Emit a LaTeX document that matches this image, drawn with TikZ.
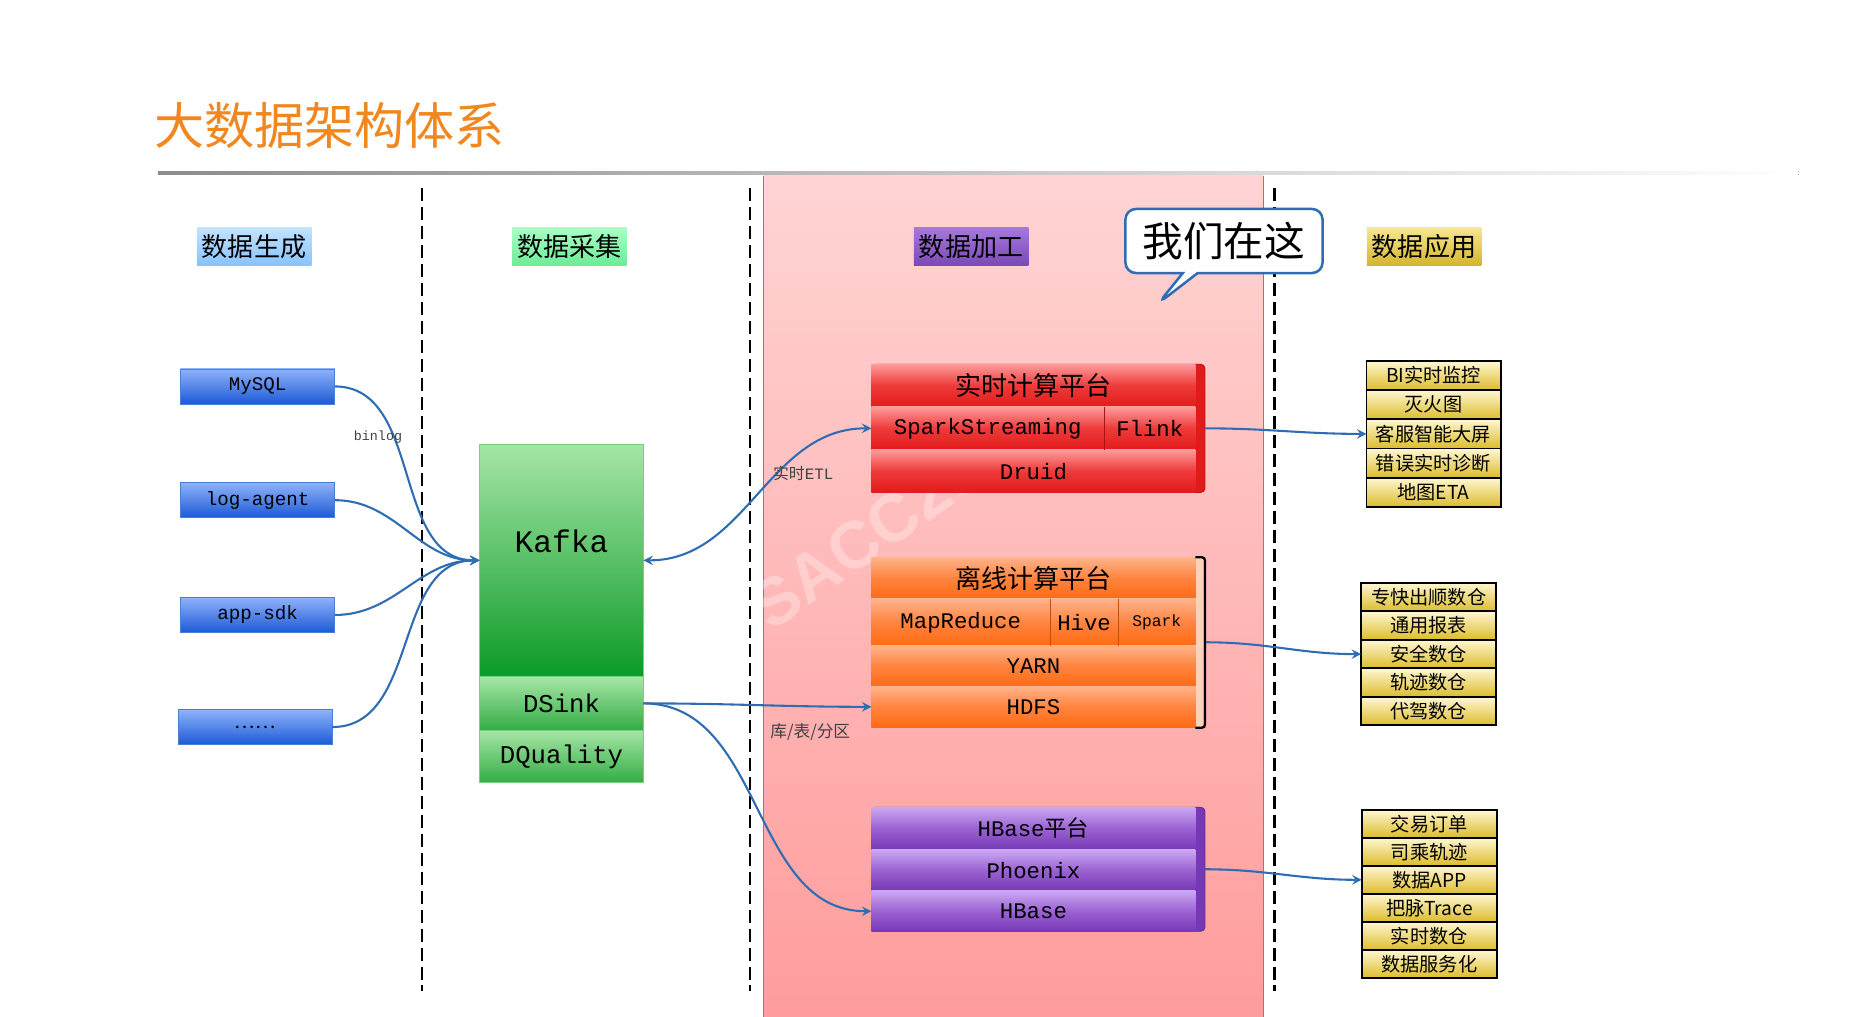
\documentclass[tikz,border=0pt]{standalone}
\usepackage{fontspec}
\setmainfont{Liberation Mono}
\newfontfamily\cjk{Noto Sans CJK SC}
\newfontfamily\wmfont{Liberation Sans}
\usetikzlibrary{positioning, arrows, shapes.callouts}
\definecolor{titleorange}{HTML}{F0871F}
\definecolor{pinktop}{HTML}{FFD4D4}
\definecolor{pinkbot}{HTML}{FF9C9C}
\definecolor{pinkline}{HTML}{E05A5A}
\definecolor{flowblue}{HTML}{2E6DB4}
\definecolor{srctop}{HTML}{8FB2FA}
\definecolor{srcbot}{HTML}{1D5AD6}
\definecolor{srcline}{HTML}{4A7FD8}
\definecolor{kfktop}{HTML}{A6E6A6}
\definecolor{kfkbot}{HTML}{0C9A28}
\definecolor{sinkbot}{HTML}{34AC44}
\definecolor{rttop}{HTML}{FF9A9A}
\definecolor{rtmid}{HTML}{EE3A3A}
\definecolor{rtbot}{HTML}{E31A1A}
\definecolor{offtop}{HTML}{FFB38A}
\definecolor{offmid}{HTML}{FF8440}
\definecolor{offbot}{HTML}{FF6A12}
\definecolor{hbtop}{HTML}{CBA8F2}
\definecolor{hbmid}{HTML}{9A62D2}
\definecolor{hbbot}{HTML}{7638B6}
\definecolor{goldtop}{HTML}{FFF7D2}
\definecolor{goldbot}{HTML}{DCBC2C}
\definecolor{hdatop}{HTML}{C2E2FF}
\definecolor{hdabot}{HTML}{86C2FF}
\definecolor{hdbtop}{HTML}{A8FFC4}
\definecolor{hdbbot}{HTML}{6CEC96}
\definecolor{hdctop}{HTML}{A678DC}
\definecolor{hdcbot}{HTML}{7A48B6}
\definecolor{hddtop}{HTML}{F6E690}
\definecolor{hddbot}{HTML}{D4B42E}

\begin{document}
\begin{tikzpicture}[x=0.02cm, y=-0.02cm,
    every node/.style={inner sep=0pt, outer sep=0pt},
    hdr/.style={minimum width=1.93cm, minimum height=0.64cm, font=\cjk\fontsize{12.5}{12.5}\selectfont},
    src/.style={draw=srcline, top color=srctop, bottom color=srcbot, minimum width=2.6cm,
                minimum height=0.59cm, font=\fontsize{9.2}{9.2}\selectfont},
    kfk/.style={draw=kfktop!70!kfkbot, top color=kfktop, bottom color=kfkbot, minimum width=2.76cm},
    sink/.style={kfk, bottom color=sinkbot, font=\fontsize{12.3}{12.3}\selectfont},
    rtrow/.style={top color=rttop, bottom color=rtbot, middle color=rtmid, minimum height=0.72cm,
                  font=\fontsize{10.7}{10.7}\selectfont},
    offrow/.style={top color=offtop, bottom color=offbot, middle color=offmid,
                   font=\fontsize{10.7}{10.7}\selectfont},
    hbrow/.style={top color=hbtop, bottom color=hbbot, middle color=hbmid,
                  font=\fontsize{10.7}{10.7}\selectfont},
    app/.style={draw=black, line width=0.9pt, top color=goldtop, bottom color=goldbot,
                minimum width=2.26cm, minimum height=0.48cm, font=\cjk\fontsize{9.2}{9.2}\selectfont},
    note/.style={font=\cjk\fontsize{7.6}{7.6}\selectfont, text=black!75},
    sep/.style={line width=1.1pt, dash pattern=on 6.3pt off 2.8pt},
    cell/.style={line width=0.4pt},
    flow/.style={draw=flowblue, line width=1pt, -stealth}]

\useasboundingbox (0,0) rectangle (1560,856.6);

\node[anchor=west, text=titleorange, font=\cjk\fontsize{24}{24}\selectfont] (title) at (130,106) {大数据架构体系};
\fill[left color=black!45, right color=white] (133,144.3) rectangle (1515,147);

\fill[top color=pinktop, bottom color=pinkbot] (643,148) rectangle (1064,856.6);
\draw[pinkline, line width=0.5pt] (643,148) -- (643,856.6) (1064,148) -- (1064,856.6);

\draw[sep] (355.7,158.6) -- (355.7,835);
\draw[sep] (632,158.6) -- (632,835);
\draw[sep] (1073.6,158.6) -- (1073.6,835);

\node[rotate=35, text=white, opacity=0.3, font=\wmfont\bfseries\fontsize{32}{32}\selectfont] (mark) at (755,435) {SACC2018};

\node[hdr, top color=hdatop, bottom color=hdabot] (hgen) at (214,208) {数据生成};
\node[hdr, top color=hdbtop, bottom color=hdbbot] (hcol) at (479.6,208) {数据采集};
\node[hdr, top color=hdctop, bottom color=hdcbot] (hproc) at (818,208) {数据加工};
\node[hdr, top color=hddtop, bottom color=hddbot] (happ) at (1199.5,208) {数据应用};

\node[rectangle callout, rounded corners=5pt, draw=flowblue, line width=1.2pt, fill=white,
      minimum width=3.32cm, minimum height=1.08cm, callout absolute pointer={(975.6,255.6)},
      font=\cjk\fontsize{19.5}{19.5}\selectfont] (here) at (1031,203) {我们在这};

\node[src] (mysql) at (217,325.5) {MySQL};
\node[src] (logagent) at (217,421.3) {log-agent};
\node[src] (appsdk) at (217,518) {app-sdk};
\node[src] (more) at (215,612.4) {\cjk ……};

\node[kfk, minimum height=3.92cm,
      label={[yshift=0.32cm, font=\fontsize{15}{15}\selectfont]center:Kafka}] (kafka) at (473,472) {};
\node[sink, minimum height=0.9cm, anchor=north] (dsink) at (kafka.south) {DSink};
\node[sink, minimum height=0.89cm, anchor=north] (dquality) at (dsink.south) {DQuality};

\node[draw=rtbot!80!black, line width=0.4pt, fill=rtbot, rounded corners=2pt,
      minimum width=5.62cm, minimum height=2.16cm] (rt) at (874.5,360.8) {};
\node[rtrow, minimum width=5.46cm, font=\cjk\fontsize{12.5}{12.5}\selectfont] (rttitle) at (870.5,324.8) {实时计算平台};
\node[rtrow, minimum width=3.92cm, anchor=north west] (spark) at (rttitle.south west) {SparkStreaming};
\node[rtrow, minimum width=1.54cm, anchor=north west] (flink) at (spark.north east) {Flink};
\node[rtrow, minimum width=5.46cm, anchor=north west] (druid) at (spark.south west) {Druid};
\draw[cell, rtbot!75!black] (flink.north west) -- (flink.south west);

\node[fill=offtop!60!white, minimum width=5.58cm, minimum height=2.87cm] (off) at (873.5,541.2) {};
\node[offrow, minimum width=5.46cm, minimum height=0.70cm, font=\cjk\fontsize{12.5}{12.5}\selectfont] (offtitle) at (870.5,486.9) {离线计算平台};
\node[offrow, minimum width=3.01cm, minimum height=0.79cm, anchor=north west] (mapreduce) at (offtitle.south west) {MapReduce};
\node[offrow, minimum width=1.146cm, minimum height=0.79cm, anchor=north west] (hive) at (mapreduce.north east) {Hive};
\node[offrow, minimum width=1.304cm, minimum height=0.79cm, anchor=north west,
      font=\fontsize{7.8}{7.8}\selectfont] (sparkb) at (hive.north east) {Spark};
\node[offrow, minimum width=5.46cm, minimum height=0.68cm, anchor=north west] (yarn) at (mapreduce.south west) {YARN};
\node[offrow, minimum width=5.46cm, minimum height=0.70cm, anchor=north west] (hdfs) at (yarn.south west) {HDFS};
\draw[cell, offbot!75!black] (hive.north west) -- (hive.south west) (sparkb.north west) -- (sparkb.south west);
\draw[line width=1.1pt, rounded corners=1.5pt] (1007,469.4) -- (1015,469.4) -- (1015,613) -- (1007,613);
\coordinate (offout) at (1016,541);

\node[draw=hbbot!80!black, line width=0.4pt, fill=hbbot, rounded corners=2pt,
      minimum width=5.62cm, minimum height=2.09cm] (hb) at (874.5,732.2) {};
\node[hbrow, minimum width=5.46cm, minimum height=0.72cm] (hbtitle) at (870.5,697.8) {HBase{\cjk 平台}};
\node[hbrow, minimum width=5.46cm, minimum height=0.69cm, anchor=north west] (phoenix) at (hbtitle.south west) {Phoenix};
\node[hbrow, minimum width=5.46cm, minimum height=0.69cm, anchor=north west] (hbase) at (phoenix.south west) {HBase};

\node[app, minimum height=0.492cm] (a1) at (1207.5,316.3) {BI实时监控};
\node[app, minimum height=0.492cm, below=0pt of a1] (a2) {灭火图};
\node[app, minimum height=0.492cm, below=0pt of a2] (a3) {客服智能大屏};
\node[app, minimum height=0.492cm, below=0pt of a3] (a4) {错误实时诊断};
\node[app, minimum height=0.492cm, below=0pt of a4] (a5) {地图ETA};

\node[app, minimum width=2.28cm] (b1) at (1203.5,503) {专快出顺数仓};
\node[app, minimum width=2.28cm, below=0pt of b1] (b2) {通用报表};
\node[app, minimum width=2.28cm, below=0pt of b2] (b3) {安全数仓};
\node[app, minimum width=2.28cm, below=0pt of b3] (b4) {轨迹数仓};
\node[app, minimum width=2.28cm, below=0pt of b4] (b5) {代驾数仓};

\node[app, minimum width=2.28cm, minimum height=0.473cm] (c1) at (1204,693.8) {交易订单};
\node[app, minimum width=2.28cm, minimum height=0.473cm, below=0pt of c1] (c2) {司乘轨迹};
\node[app, minimum width=2.28cm, minimum height=0.473cm, below=0pt of c2] (c3) {数据APP};
\node[app, minimum width=2.28cm, minimum height=0.473cm, below=0pt of c3] (c4) {把脉Trace};
\node[app, minimum width=2.28cm, minimum height=0.473cm, below=0pt of c4] (c5) {实时数仓};
\node[app, minimum width=2.28cm, minimum height=0.473cm, below=0pt of c5] (c6) {数据服务化};

\draw[flow] (mysql.east) to[out=0, in=180] (kafka.west);
\draw[flow] (logagent.east) to[out=0, in=180] (kafka.west);
\draw[flow] (appsdk.east) to[out=0, in=180] (kafka.west);
\draw[flow] (more.east) to[out=0, in=180] (kafka.west);
\node[note, font=\fontsize{6.4}{6.4}\selectfont] (binlog) at (318.4,367.8) {binlog};

\draw[flow, stealth-stealth] (kafka.east) to[out=0, in=180] (spark.west);
\node[note] (etl) at (676.6,398.6) {实时{\fontspec{Liberation Mono}ETL}};
\draw[flow] (dsink.east) to[out=0, in=180] (hdfs.west);
\draw[flow] (dsink.east) to[out=0, in=180] (hbase.west);
\node[note, font=\cjk\fontsize{8}{8}\selectfont] (part) at (682.5,616.6) {库/表/分区};

\draw[flow] (rt.east) to[out=0, in=180] (a3.west);
\draw[flow] (offout) to[out=0, in=180] (b3.west);
\draw[flow] (hb.east) to[out=0, in=180] (c3.west);
\end{tikzpicture}
\end{document}
